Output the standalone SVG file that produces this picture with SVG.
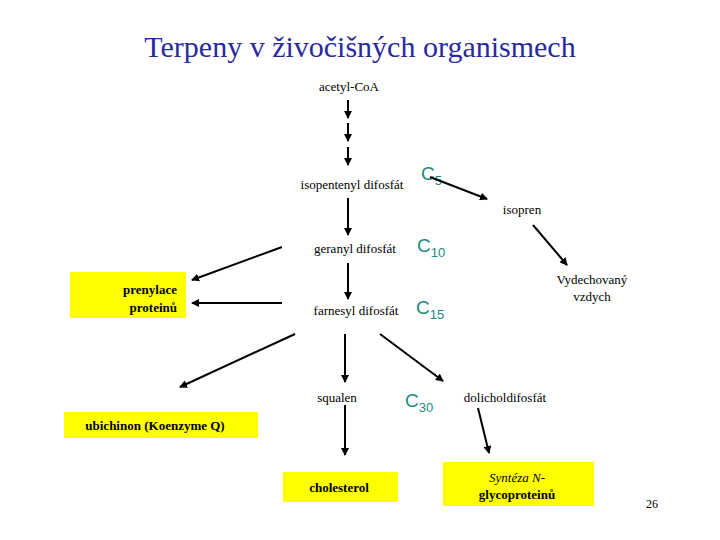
<svg xmlns="http://www.w3.org/2000/svg" width="720" height="540" viewBox="0 0 720 540">
<style>
text{font-family:"Liberation Serif",serif;font-size:13px;fill:#000}
.c{font-family:"Liberation Sans",sans-serif;font-size:19px;fill:#1a8a80}
.s{font-size:13px}
.b{font-weight:bold}
.box{fill:#ffff00}
line{stroke:#000;stroke-width:2;marker-end:url(#a)}
</style>
<defs><marker id="a" markerWidth="8" markerHeight="8" refX="7" refY="4" orient="auto" markerUnits="userSpaceOnUse"><path d="M0,0L8,4L0,8z" fill="#000"/></marker></defs>
<rect width="720" height="540" fill="#fff"/>
<text x="360" y="57" text-anchor="middle" style="font-size:30px;fill:#2a2aa0">Terpeny v živočišných organismech</text>
<g id="acetyl"><text x="349" y="91" text-anchor="middle">acetyl-CoA</text></g>
<g id="ipp"><text x="352" y="189" text-anchor="middle">isopentenyl difosfát</text><text class="c" x="421" y="180">C<tspan class="s" dy="5">5</tspan></text></g>
<g id="isopren"><text x="522" y="214" text-anchor="middle">isopren</text></g>
<g id="vydech"><text x="592" y="284" text-anchor="middle">Vydechovaný</text><text x="592" y="301" text-anchor="middle">vzdych</text></g>
<g id="geranyl"><text x="355" y="253" text-anchor="middle">geranyl difosfát</text><text class="c" x="417" y="252">C<tspan class="s" dy="5">10</tspan></text></g>
<g id="farnesyl"><text x="356" y="315" text-anchor="middle">farnesyl difosfát</text><text class="c" x="416" y="314">C<tspan class="s" dy="5">15</tspan></text></g>
<g id="squalen"><text x="337" y="402" text-anchor="middle">squalen</text></g>
<g id="c30"><text class="c" x="405" y="407">C<tspan class="s" dy="5">30</tspan></text></g>
<g id="dolichol"><text x="505" y="402" text-anchor="middle">dolicholdifosfát</text></g>
<g id="prenylace"><rect class="box" x="70" y="272" width="116" height="46"/><text class="b" x="177" y="294" text-anchor="end">prenylace</text><text class="b" x="177" y="312" text-anchor="end">proteinů</text></g>
<g id="ubichinon"><rect class="box" x="64" y="412" width="194" height="26"/><text class="b" x="155" y="430" text-anchor="middle">ubichinon (Koenzyme Q)</text></g>
<g id="cholesterol"><rect class="box" x="283" y="472" width="115" height="30"/><text class="b" x="339" y="492" text-anchor="middle">cholesterol</text></g>
<g id="synteza"><rect class="box" x="443" y="462" width="151" height="44"/><text x="517" y="482" text-anchor="middle" font-style="italic">Syntéza N-</text><text class="b" x="517" y="499" text-anchor="middle">glycoproteinů</text></g>
<text x="652" y="508" text-anchor="middle" style="font-size:12px">26</text>
<g id="connectors">
<line x1="348" y1="100" x2="348" y2="118"/>
<line x1="348" y1="123" x2="348" y2="141"/>
<line x1="348" y1="147" x2="348" y2="165"/>
<line x1="430" y1="177" x2="487" y2="199"/>
<line x1="533" y1="225" x2="567" y2="265"/>
<line x1="348" y1="198" x2="348" y2="235"/>
<line x1="348" y1="263" x2="348" y2="299"/>
<line x1="282" y1="247" x2="192" y2="280"/>
<line x1="282" y1="303" x2="192" y2="303"/>
<line x1="295" y1="334" x2="180" y2="387"/>
<line x1="345" y1="334" x2="345" y2="382"/>
<line x1="380" y1="334" x2="443" y2="381"/>
<line x1="345" y1="405" x2="345" y2="455"/>
<line x1="478" y1="408" x2="489" y2="453"/>
</g>
</svg>
